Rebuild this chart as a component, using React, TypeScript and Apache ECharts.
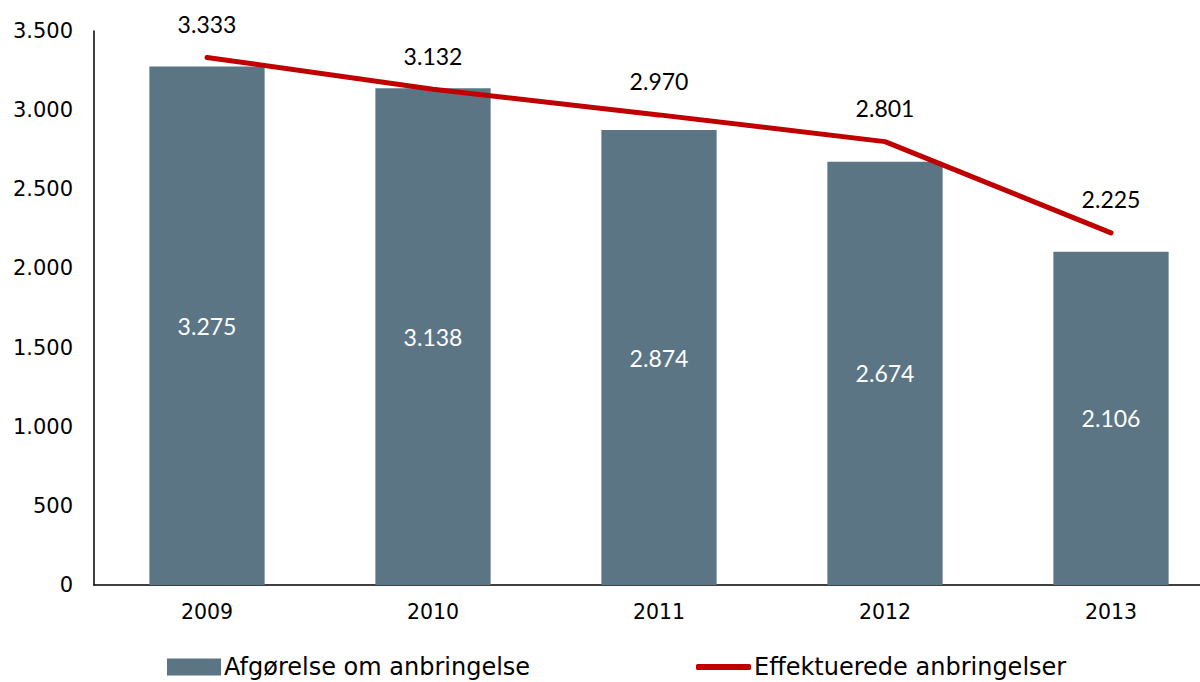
import React, { useEffect, useRef } from "react";
import * as echarts from "echarts";

const years = ["2009", "2010", "2011", "2012", "2013"];
const afgoerelse = [3275, 3138, 2874, 2674, 2106];
const effektuerede = [3333, 3132, 2970, 2801, 2225];
const barName = "Afgørelse om anbringelse";
const lineName = "Effektuerede anbringelser";

const fmt = (v: number) => {
  const s = Math.round(v).toString();
  return s.replace(/\B(?=(\d{3})+(?!\d))/g, ".");
};

export default function App() {
  const ref = useRef<HTMLDivElement>(null);
  useEffect(() => {
    if (!ref.current) return;
    const chart = echarts.init(ref.current, null, { renderer: "svg" });
    chart.setOption({
      animation: false,
      backgroundColor: "#ffffff",
      grid: { left: 94, right: 0, top: 31, bottom: 97, containLabel: false },
      legend: [
        {
          data: [{ name: barName, icon: "rect" }],
          left: 167,
          top: 655,
          padding: 0,
          itemWidth: 54,
          itemHeight: 17,
          textStyle: { fontFamily: "DejaVu Sans", fontSize: 24, color: "#000", padding: [0, 0, 0, -2] },
        },
        {
          data: [{ name: lineName, icon: "roundRect", itemStyle: { color: "#C00000" } }],
          left: 696,
          top: 655,
          padding: 0,
          itemWidth: 55,
          itemHeight: 6,
          textStyle: { fontFamily: "DejaVu Sans", fontSize: 24, color: "#000", padding: [0, 0, 0, -2] },
        },
      ],
      xAxis: {
        type: "category",
        data: years,
        axisLine: { show: true, lineStyle: { color: "#000", width: 1.5 } },
        axisTick: { show: false },
        axisLabel: { fontFamily: "DejaVu Sans", fontSize: 20.5, color: "#000", margin: 16 },
      },
      yAxis: {
        type: "value",
        min: 0,
        max: 3500,
        interval: 500,
        splitLine: { show: false },
        axisLine: { show: true, lineStyle: { color: "#000", width: 1.5 } },
        axisTick: { show: false },
        axisLabel: {
          fontFamily: "DejaVu Sans",
          fontSize: 21,
          color: "#000",
          margin: 21,
          formatter: (v: number) => fmt(v),
        },
      },
      series: [
        {
          name: barName,
          type: "bar",
          data: afgoerelse,
          barWidth: "51%",
          itemStyle: { color: "#5B7585" },
          label: {
            show: true,
            position: "inside",
            color: "#fff",
            fontFamily: "Lato",
            fontSize: 23,
            formatter: (p: any) => fmt(p.value),
          },
        },
        {
          name: lineName,
          type: "line",
          data: effektuerede,
          symbol: "circle",
          symbolSize: 0.1,
          showSymbol: true,
          lineStyle: { color: "#C00000", width: 5, cap: "round" },
          itemStyle: { color: "#C00000" },
          label: {
            show: true,
            position: "top",
            distance: 22,
            color: "#000",
            fontFamily: "Lato",
            fontSize: 23,
            formatter: (p: any) => fmt(p.value),
          },
        },
      ],
    });
    return () => chart.dispose();
  }, []);
  return (
    <div style={{ width: 1200, height: 682, position: "fixed", left: 0, top: 0, overflow: "hidden" }}>
      <div ref={ref} style={{ width: 1224, height: 682 }} />
    </div>
  );
}
